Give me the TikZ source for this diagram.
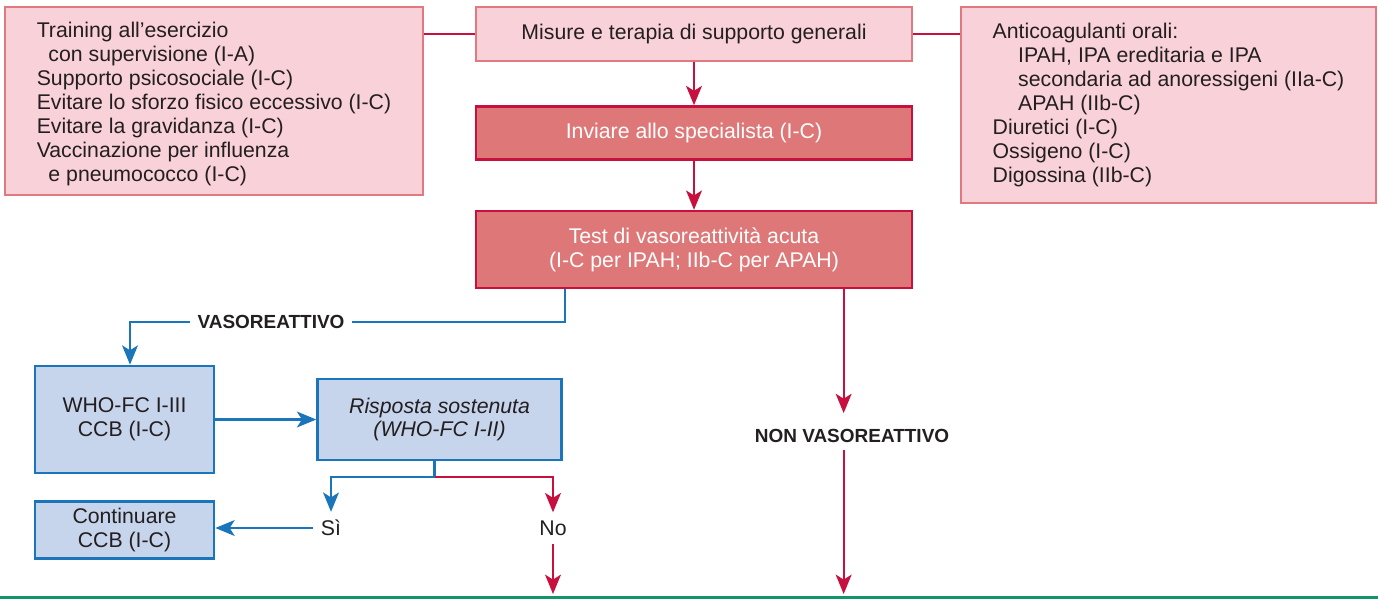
\documentclass[tikz,border=0pt]{standalone}
\usepackage{fontspec}
\setmainfont{Liberation Sans}
\usetikzlibrary{positioning,calc,arrows.meta}
\definecolor{pinkfill}{HTML}{F9D1D9}
\definecolor{pinkedge}{HTML}{E07A80}
\definecolor{rosefill}{HTML}{DE7878}
\definecolor{crimson}{HTML}{C8103E}
\definecolor{bluefill}{HTML}{C6D4EC}
\definecolor{blueedge}{HTML}{1B75BB}
\definecolor{greenrule}{HTML}{13956B}
\definecolor{ink}{HTML}{231F20}
\newcommand{\boxfont}{\fontsize{12.1}{13.6}\selectfont}
\newcommand{\tagfont}{\fontsize{10.8}{12}\selectfont\bfseries}
\newcommand{\indA}{\hspace*{0.55em}}
\newcommand{\indB}{\hspace*{1.2em}}
\tikzset{
pinkbox/.style={draw=pinkedge,fill=pinkfill,line width=1.4pt,inner sep=0pt,font=\boxfont,text=ink},
rosebox/.style={draw=crimson,fill=rosefill,line width=1.5pt,inner sep=0pt,font=\boxfont,text=white,align=center,minimum width=8.72cm},
bluebox/.style={draw=blueedge,fill=bluefill,line width=1.5pt,inner sep=0pt,font=\boxfont,text=ink,align=center,minimum width=3.58cm},
flowtag/.style={font=\tagfont,text=ink,inner sep=4pt},
answer/.style={font=\boxfont,text=ink,inner sep=4.5pt},
redline/.style={draw=crimson,line width=1.3pt},
blueline/.style={draw=blueedge,line width=1.3pt},
redarrow/.style={redline,-{Stealth[length=11pt,width=9pt,inset=2.8pt]}},
bluearrow/.style={blueline,-{Stealth[length=11pt,width=9pt,inset=2.8pt]}}
}

\begin{document}
\begin{tikzpicture}[x=0.02cm,y=-0.02cm]
\useasboundingbox (0,0) rectangle (1378,599);
% top row
\node[pinkbox,minimum width=8.72cm,minimum height=1.08cm] (gen) at (694,34) {Misure e terapia di supporto generali};
\node[pinkbox,minimum width=8.36cm,minimum height=3.76cm,align=left] (care) at (214,101)
  {\rule{0pt}{12pt}Training all'esercizio\\\indA con supervisione (I-A)\\Supporto psicosociale (I-C)\\Evitare lo sforzo fisico eccessivo (I-C)\\Evitare la gravidanza (I-C)\\Vaccinazione per influenza\\\indA e pneumococco (I-C)};
\node[pinkbox,minimum width=8.3cm,minimum height=3.92cm,align=left] (drugs) at (1168.5,105)
  {Anticoagulanti orali:\\\indB IPAH, IPA ereditaria e IPA\\\indB secondaria ad anoressigeni (IIa-C)\\\indB APAH (IIb-C)\\Diuretici (I-C)\\Ossigeno (I-C)\\Digossina (IIb-C)};
\node[rosebox,minimum height=1.06cm,below=0.86cm of gen] (spec) {Inviare allo specialista (I-C)};
\node[rosebox,minimum height=1.54cm,below=0.98cm of spec] (test) {Test di vasoreattività acuta\\(I-C per IPAH; IIb-C per APAH)};
% vasoreactive branch
\node[flowtag] (vaso) at (271,322) {VASOREATTIVO};
\node[bluebox,minimum height=2.14cm] (who) at (124.5,419.5) {WHO-FC I-III\\CCB (I-C)};
\node[bluebox,minimum width=4.88cm,minimum height=1.62cm,right=2.02cm of who,font=\boxfont\itshape] (risp) {Risposta sostenuta\\(WHO-FC I-II)};
\node[bluebox,minimum height=1.14cm,below=0.52cm of who] (cont) {Continuare\\CCB (I-C)};
\node[answer] (si) at (331,528) {Sì};
\node[answer] (no) at (553,528) {No};
% non vasoreactive branch
\node[flowtag] (nonvaso) at (852,436) {NON VASOREATTIVO};
\coordinate (vout) at ([xshift=1.8cm]test.south west);
\coordinate (nout) at ([xshift=7.38cm]test.south west);
\coordinate (fork) at ([xshift=-0.1cm,yshift=-0.32cm]risp.south);
\coordinate (floor) at (0,594);
\draw[greenrule,line width=1.7pt] (0,597) -- (1378,597);
\draw[redline] (gen.west) -- (gen.west -| care.east);
\draw[redline] (gen.east) -- (gen.east -| drugs.west);
\draw[redarrow] (gen.south) -- (spec.north);
\draw[redarrow] (spec.south) -- (test.north);
\draw[blueline] (vout) |- (vaso.east);
\draw[bluearrow] (vaso.west) -| ([xshift=0.11cm]who.north);
\draw[bluearrow] (who.east) -- (risp.west);
\draw[blueline] (fork |- risp.south) -- (fork);
\draw[bluearrow] (fork) -| (si.north);
\draw[redarrow] (fork) -| (no.north);
\draw[bluearrow] (si.west) -- (si.west -| cont.east);
\draw[redarrow] (no.south) -- (no |- floor);
\draw[redarrow] (nout) -- ([yshift=5pt]nout |- nonvaso.north);
\draw[redarrow] (nout |- nonvaso.south) -- (nout |- floor);
\end{tikzpicture}
\end{document}
